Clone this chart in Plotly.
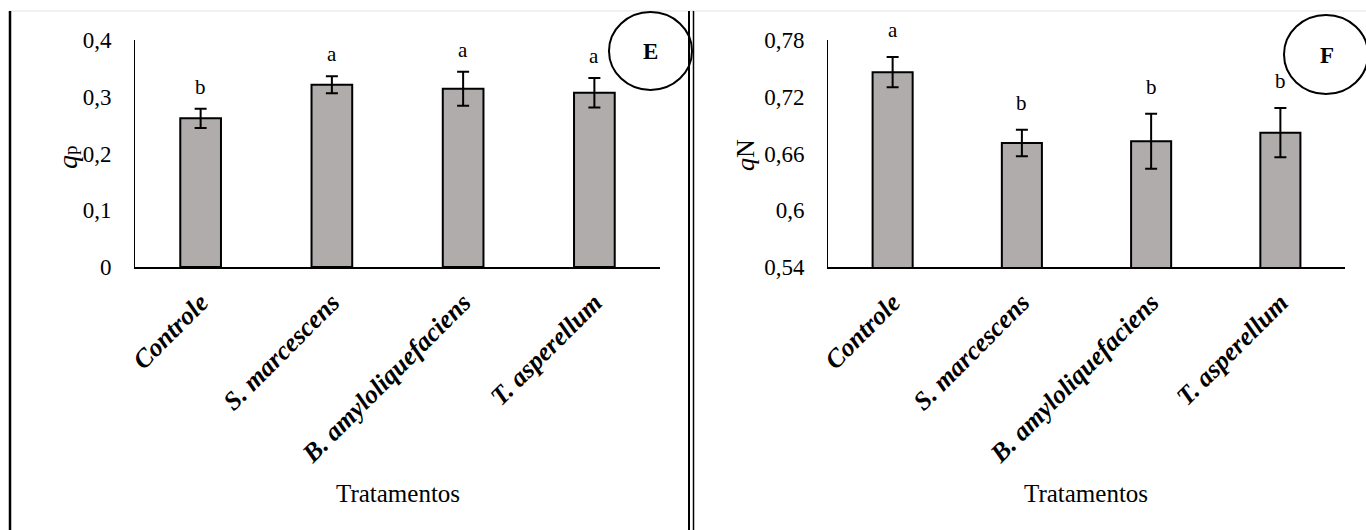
import plotly.graph_objects as go

# ---------------- data ----------------
categories = ["Controle", "S. marcescens", "B. amyloliquefaciens", "T. asperellum"]

qp_values = [0.262, 0.321, 0.314, 0.307]
qp_errors = [0.017, 0.015, 0.030, 0.026]
qp_letters = ["b", "a", "a", "a"]

qn_values = [0.746, 0.671, 0.673, 0.682]
qn_errors = [0.016, 0.014, 0.029, 0.026]
qn_letters = ["a", "b", "b", "b"]

qp_ticks = [0, 0.1, 0.2, 0.3, 0.4]
qp_ticktext = ["0", "0,1", "0,2", "0,3", "0,4"]
qn_ticks = [0.54, 0.60, 0.66, 0.72, 0.78]
qn_ticktext = ["0,54", "0,6", "0,66", "0,72", "0,78"]

# ---------------- styling ----------------
W, H = 1366, 530
FONT = "Liberation Serif"
BAR_COLOR = "#AFACAB"


def px(x):
    return x / W


def py(y):
    return 1 - y / H


fig = go.Figure()

fig.add_trace(go.Bar(
    x=categories, y=qp_values,
    error_y=dict(type="data", array=qp_errors, color="black", thickness=2, width=6),
    marker=dict(color=BAR_COLOR, line=dict(color="black", width=2)),
    xaxis="x", yaxis="y", showlegend=False,
))
fig.add_trace(go.Bar(
    x=categories, y=qn_values,
    error_y=dict(type="data", array=qn_errors, color="black", thickness=2, width=6),
    marker=dict(color=BAR_COLOR, line=dict(color="black", width=2)),
    xaxis="x2", yaxis="y2", showlegend=False,
))

xaxis_common = dict(
    showline=True, linecolor="black", linewidth=2,
    showgrid=False, zeroline=False,
    ticks="outside", ticklen=8, tickcolor="rgba(0,0,0,0)",
    tickangle=-45,
    tickfont=dict(family=FONT, size=26, color="black"),
    fixedrange=True, automargin=False,
)
yaxis_common = dict(
    showline=True, linecolor="black", linewidth=1,
    showgrid=False, zeroline=False,
    ticks="outside", ticklen=18, tickcolor="rgba(0,0,0,0)",
    tickfont=dict(family=FONT, size=23, color="black"),
    automargin=False, fixedrange=True,
)

fig.update_layout(
    width=W, height=H,
    margin=dict(l=0, r=0, t=0, b=0, autoexpand=False),
    paper_bgcolor="white", plot_bgcolor="white",
    bargap=0.69,
    xaxis=dict(domain=[px(135), px(660)], anchor="y",
               tickvals=categories,
               ticktext=["<b><i>%s</i></b>" % c for c in categories],
               **xaxis_common),
    yaxis=dict(domain=[py(267), py(40)], anchor="x", range=[0, 0.4],
               tickvals=qp_ticks, ticktext=qp_ticktext, **yaxis_common),
    xaxis2=dict(domain=[px(828), px(1345)], anchor="y2",
                tickvals=categories,
                ticktext=["<b><i>%s</i></b>" % c for c in categories],
                **xaxis_common),
    yaxis2=dict(domain=[py(267), py(40)], anchor="x2", range=[0.54, 0.78],
                tickvals=qn_ticks, ticktext=qn_ticktext, **yaxis_common),
)

annotations = []
# significance letters
for c, v, e, l in zip(categories, qp_values, qp_errors, qp_letters):
    annotations.append(dict(x=c, y=v + e, xref="x", yref="y", text=l, showarrow=False,
                            xanchor="center", yanchor="bottom", yshift=8,
                            font=dict(family=FONT, size=21, color="black")))
for c, v, e, l in zip(categories, qn_values, qn_errors, qn_letters):
    annotations.append(dict(x=c, y=v + e, xref="x2", yref="y2", text=l, showarrow=False,
                            xanchor="center", yanchor="bottom", yshift=13,
                            font=dict(family=FONT, size=21, color="black")))

# axis titles and panel labels
mid = dict(xanchor="center", yanchor="middle", showarrow=False, xref="paper", yref="paper")
annotations += [
    dict(x=px(398), y=py(493), text="Tratamentos",
         font=dict(family=FONT, size=25, color="black"), **mid),
    dict(x=px(1086), y=py(493), text="Tratamentos",
         font=dict(family=FONT, size=25, color="black"), **mid),
    dict(x=px(67), y=py(157),
         text="<i>q</i><span style='font-size:19px'>p</span>",
         textangle=-90, font=dict(family=FONT, size=28, color="black"), **mid),
    dict(x=px(745), y=py(155), text="<i>q</i>N",
         textangle=-90, font=dict(family=FONT, size=26, color="black"), **mid),
    dict(x=px(650), y=py(52), text="<b>E</b>",
         font=dict(family=FONT, size=23, color="black"), **mid),
    dict(x=px(1327), y=py(56), text="<b>F</b>",
         font=dict(family=FONT, size=23, color="black"), **mid),
]
fig.update_layout(annotations=annotations)

shapes = [
    # top thin frame line
    dict(type="line", xref="paper", yref="paper", x0=px(9), x1=1, y0=py(11), y1=py(11),
         line=dict(color="#E3E3E3", width=1)),
    # left border
    dict(type="line", xref="paper", yref="paper", x0=px(10), x1=px(10), y0=py(11), y1=0,
         line=dict(color="black", width=2.5)),
    # double separator
    dict(type="line", xref="paper", yref="paper", x0=px(689), x1=px(689), y0=py(11), y1=0,
         line=dict(color="black", width=2)),
    dict(type="line", xref="paper", yref="paper", x0=px(693.5), x1=px(693.5), y0=py(11), y1=0,
         line=dict(color="black", width=1.5)),
    # panel label circles
    dict(type="circle", xref="paper", yref="paper", x0=px(609), x1=px(692),
         y0=py(90), y1=py(12), line=dict(color="black", width=2)),
    dict(type="circle", xref="paper", yref="paper", x0=px(1284), x1=px(1368),
         y0=py(94), y1=py(15), line=dict(color="black", width=2)),
]
fig.update_layout(shapes=shapes)

fig.write_html(
    "out.html",
    config={"displayModeBar": False, "staticPlot": True},
    post_script="document.body.style.margin='0';document.body.style.overflow='hidden';",
)
